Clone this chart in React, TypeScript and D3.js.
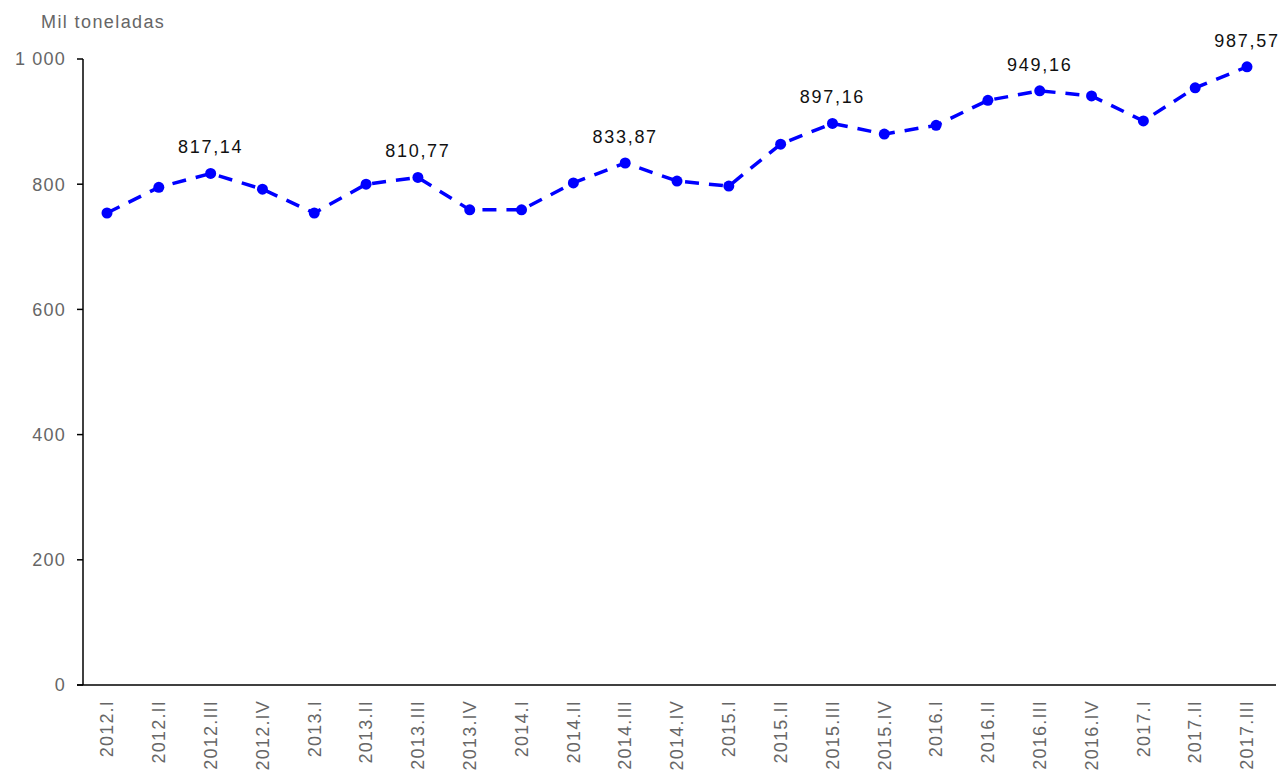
import React from 'react';
import * as d3 from 'd3';

const quarters = [
  '2012.I', '2012.II', '2012.III', '2012.IV',
  '2013.I', '2013.II', '2013.III', '2013.IV',
  '2014.I', '2014.II', '2014.III', '2014.IV',
  '2015.I', '2015.II', '2015.III', '2015.IV',
  '2016.I', '2016.II', '2016.III', '2016.IV',
  '2017.I', '2017.II', '2017.III',
];
const values = [
  754, 795, 817.14, 792,
  754, 800, 810.77, 759,
  759, 802, 833.87, 805,
  797, 864, 897.16, 880,
  894, 934, 949.16, 941,
  901, 954, 987.57,
];
const labelled = ['2012.III', '2013.III', '2014.III', '2015.III', '2016.III', '2017.III'];
const yTicks = [0, 200, 400, 600, 800, 1000];

const W = 1286;
const H = 771;
const left = 83;
const right = 1276;
const top = 59;
const bottom = 685;

const fmt = (v: number) => d3.format(',.0f')(v).replace(/,/g, ' ');
const fmtLabel = (v: number) => v.toFixed(2).replace('.', ',');

export default function App() {
  const x = d3.scalePoint<string>().domain(quarters).range([107, 1247]);
  const y = d3.scaleLinear().domain([0, 1000]).range([bottom, top]);
  const pts = quarters.map((q, i) => ({ q, v: values[i] }));
  const line = d3.line<{ q: string; v: number }>()
    .x(d => x(d.q)!)
    .y(d => y(d.v));

  return (
    <svg width={W} height={H} style={{ position: 'absolute', left: 0, top: 0 }}
      fontFamily="'Liberation Sans', Arial, sans-serif">
      <text x={41} y={28} fontSize={18} letterSpacing={1.4} fill="#666">Mil toneladas</text>
      {yTicks.map(t => (
        <g key={t}>
          <line x1={left - 6} x2={left} y1={y(t)} y2={y(t)} stroke="#000" strokeWidth={1.5} />
          <text x={left - 17} y={y(t)} dy="0.35em" textAnchor="end" fontSize={18}
            letterSpacing={1.2} fill="#666">
            {fmt(t)}
          </text>
        </g>
      ))}
      <line x1={left} x2={left} y1={top} y2={bottom} stroke="#000" strokeWidth={1.5} />
      <line x1={left - 6} x2={right} y1={bottom} y2={bottom} stroke="#000" strokeWidth={1.5} />
      {quarters.map(q => (
        <text key={q} transform={`translate(${x(q)},${bottom + 15}) rotate(-90)`}
          textAnchor="end" dy="0.35em" fontSize={18} letterSpacing={1.2} fill="#666">
          {q}
        </text>
      ))}
      <path d={line(pts) || ''} fill="none" stroke="#0000ff" strokeWidth={3.5}
        strokeDasharray="14 10" />
      {pts.map(p => (
        <circle key={p.q} cx={x(p.q)} cy={y(p.v)} r={5.5} fill="#0000ff" />
      ))}
      {pts.filter(p => labelled.includes(p.q)).map(p => (
        <text key={'l' + p.q} x={x(p.q)} y={y(p.v) - 20} textAnchor="middle"
          fontSize={18} letterSpacing={1.7} fill="#111">
          {fmtLabel(p.v)}
        </text>
      ))}
    </svg>
  );
}
